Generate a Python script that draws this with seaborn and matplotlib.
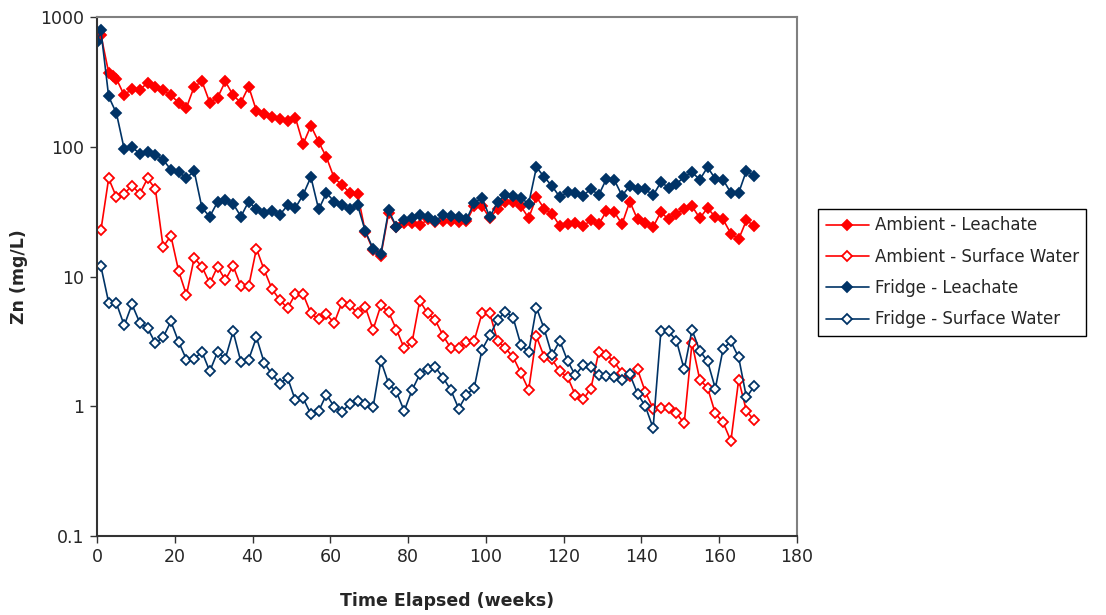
import numpy as np
import pandas as pd
import matplotlib
matplotlib.use('Agg')
import matplotlib.pyplot as plt
import seaborn as sns

# Weeks sampled (odd weeks 1..169), leachate series have extra early samples
weeks = list(range(1, 170, 2))
amb_leach_weeks = [0, 1, 3, 4, 5] + list(range(7, 170, 2))
fridge_leach_weeks = [0] + weeks

amb_leachate = [700, 730, 372, 351, 334, 249, 281, 274, 312, 291, 272, 249, 219, 200, 291,
                319, 219, 239, 319, 249, 219, 291, 189, 178, 171, 165, 158, 168, 105, 145,
                109, 83, 57.3, 50.8, 44.1, 43.4, 22, 16, 14.5, 31, 24.1, 26, 26, 24.8, 27.5,
                26.5, 26.6, 26.6, 26.2, 26.6, 34.8, 34.8, 28.2, 33.3, 37.8, 37.5, 34.8, 28.2,
                41, 33.3, 30.5, 24.5, 25.5, 26, 24.5, 27.1, 25.3, 31.8, 31.5, 25.3, 37.8,
                27.5, 26, 24.1, 31.4, 27.5, 30.5, 32.9, 34.8, 28.2, 33.7, 28.7, 27.5, 21.4,
                19.4, 27.1, 24.5]

amb_surface = [22.7, 57, 40.9, 43.4, 50.2, 43.4, 57, 47.4, 16.9, 20.6, 11.0, 7.2, 13.9, 11.9,
               8.85, 11.9, 9.4, 12.1, 8.4, 8.4, 16.4, 11.2, 8.0, 6.6, 5.7, 7.3, 7.3, 5.2, 4.7,
               5.1, 4.4, 6.3, 6.0, 5.2, 5.8, 3.9, 6.0, 5.3, 3.9, 2.8, 3.1, 6.5, 5.2, 4.6, 3.5,
               2.8, 2.8, 3.1, 3.2, 5.2, 5.2, 3.2, 2.8, 2.4, 1.8, 1.34, 3.45, 2.4, 2.3, 1.86,
               1.68, 1.22, 1.13, 1.37, 2.6, 2.5, 2.2, 1.8, 1.7, 1.92, 1.29, 0.96, 0.97, 0.97,
               0.88, 0.74, 3.07, 1.6, 1.39, 0.88, 0.75, 0.54, 1.6, 0.92, 0.78]

fridge_leachate = [643, 790, 244, 181, 96, 100, 88, 91, 87, 79.5, 66.6, 63.6, 57.5, 64.7, 33.7,
                   29, 37.5, 38.6, 36.4, 29, 37.8, 32.9, 31, 31.8, 29.9, 35.3, 33.7, 42.7, 58.4,
                   32.9, 44.1, 37.8, 35.6, 32.9, 35.6, 22.3, 16.4, 15.0, 32.3, 24.1, 27.1, 28,
                   29.6, 28.5, 27, 29.6, 29.3, 28.7, 27.5, 37, 40.2, 28.7, 37.5, 42.7, 41.5,
                   40.2, 36.4, 69.6, 58.4, 49.8, 41, 44.7, 44, 42, 47.4, 42.4, 56.5, 55.7, 42,
                   49.8, 47.5, 47, 42.2, 53.3, 48.5, 51.8, 58.4, 63.7, 55.8, 69.6, 56.5, 55.7,
                   44.1, 44.1, 65.5, 59.3]

fridge_surface = [12.0, 6.3, 6.2, 4.2, 6.1, 4.4, 4.0, 3.07, 3.4, 4.5, 3.13, 2.29, 2.33, 2.62,
                  1.86, 2.62, 2.33, 3.77, 2.2, 2.29, 3.4, 2.16, 1.76, 1.49, 1.66, 1.11, 1.15,
                  0.87, 0.92, 1.23, 0.99, 0.91, 1.05, 1.10, 1.05, 0.99, 2.24, 1.49, 1.29, 0.92,
                  1.33, 1.76, 1.95, 2.0, 1.66, 1.33, 0.96, 1.22, 1.39, 2.73, 3.51, 4.63, 5.36,
                  4.82, 2.97, 2.62, 5.76, 3.94, 2.47, 3.2, 2.24, 1.73, 2.07, 2.0, 1.73, 1.70,
                  1.68, 1.6, 1.76, 1.25, 1.0, 0.68, 3.77, 3.77, 3.2, 1.92, 3.88, 2.68, 2.22,
                  1.37, 2.77, 3.16, 2.38, 1.17, 1.43]

series_names = ['Ambient - Leachate', 'Ambient - Surface Water',
                'Fridge - Leachate', 'Fridge - Surface Water']
y_ticks = [0.1, 1, 10, 100, 1000]
y_tick_labels = ['0.1', '1', '10', '100', '1000']
x_ticks = list(range(0, 181, 20))

# Build long table
df = pd.concat([
    pd.DataFrame({'week': amb_leach_weeks, 'zn': amb_leachate, 'series': series_names[0]}),
    pd.DataFrame({'week': weeks, 'zn': amb_surface, 'series': series_names[1]}),
    pd.DataFrame({'week': fridge_leach_weeks, 'zn': fridge_leachate, 'series': series_names[2]}),
    pd.DataFrame({'week': weeks, 'zn': fridge_surface, 'series': series_names[3]}),
])

sns.set_style('white')
plt.rcParams['font.family'] = ['DejaVu Sans']

fig = plt.figure(figsize=(11.06, 6.15), dpi=100)
# plot area in pixels: left 97, right 797, top 17, bottom 536
ax = fig.add_axes([97 / 1106, 1 - 536 / 615, (797 - 97) / 1106, (536 - 17) / 615])

red = '#FF0000'
navy = '#003366'
styles = {
    series_names[0]: dict(color=red, markerfacecolor=red, markeredgecolor=red, markersize=5.5),
    series_names[1]: dict(color=red, markerfacecolor='white', markeredgecolor=red, markersize=5.0),
    series_names[2]: dict(color=navy, markerfacecolor=navy, markeredgecolor=navy, markersize=5.5),
    series_names[3]: dict(color=navy, markerfacecolor='white', markeredgecolor=navy, markersize=5.0),
}

for name in series_names:
    sub = df[df['series'] == name]
    sns.lineplot(data=sub, x='week', y='zn', ax=ax, marker='D', markeredgewidth=1.3,
                 linewidth=1.2, label=name, estimator=None, sort=False, **styles[name])

ax.set_yscale('log')
ax.set_ylim(0.1, 1000)
ax.set_xlim(0, 180)
ax.set_yticks(y_ticks)
ax.set_yticklabels(y_tick_labels)
ax.yaxis.set_minor_locator(matplotlib.ticker.NullLocator())
ax.set_xticks(x_ticks)
ax.tick_params(axis='both', direction='out', length=5, width=1, color='#333333',
               labelsize=12.5, pad=4, left=True, bottom=True)

for side in ['left', 'bottom']:
    ax.spines[side].set_color('#333333')
    ax.spines[side].set_linewidth(1.5)
for side in ['top', 'right']:
    ax.spines[side].set_color('#808080')
    ax.spines[side].set_linewidth(1.5)

ax.set_xlabel('Time Elapsed (weeks)', fontsize=12.5, fontweight='bold')
ax.set_ylabel('Zn (mg/L)', fontsize=12.5, fontweight='bold')
ax.xaxis.set_label_coords(0.5, (536 - 592) / 519)
ax.yaxis.set_label_coords((28 - 97) / 700, 0.5)

ax.legend(loc='upper left', bbox_to_anchor=(818 / 1106, 1 - 209 / 615),
          bbox_transform=fig.transFigure, frameon=True, fancybox=False,
          edgecolor='black', fontsize=12, handlelength=2.6, handletextpad=0.35,
          borderpad=0.45, labelspacing=0.8, framealpha=1, borderaxespad=0)
ax.get_legend().get_frame().set_linewidth(1)

fig.savefig('out.png', dpi=100)
